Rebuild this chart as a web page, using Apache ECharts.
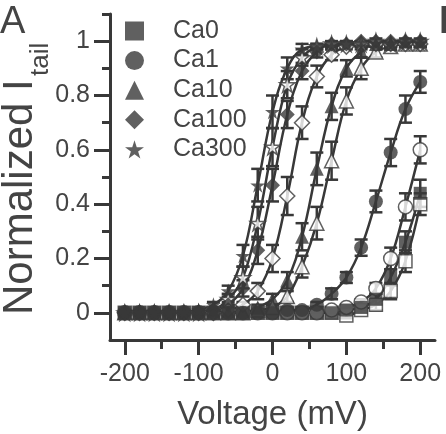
<!DOCTYPE html>
<html>
<head>
<meta charset="utf-8">
<script src="https://cdn.jsdelivr.net/npm/echarts@6/dist/echarts.min.js"></script>
<style>
  html, body { margin: 0; padding: 0; background: #fff; }
  #main { width: 446px; height: 434px; }
</style>
</head>
<body>
<div id="main"></div>
<script>
// voltages (mV)
var volts = [-200, -180, -160, -140, -120, -100, -80, -60, -40, -20, 0, 20, 40, 60, 80, 100, 120, 140, 160, 180, 200];

// normalized tail current, filled = first set, open = second set
var ca0   = [0, 0, 0, 0, 0, 0, 0, 0, 0, 0, 0, 0, 0, 0, 0, 0.01, 0.02, 0.05, 0.13, 0.26, 0.44];
var ca0o  = [0, 0, 0, 0, 0, 0, 0, 0, 0, 0, 0, 0, 0, 0, 0, -0.01, 0.01, 0.03, 0.08, 0.19, 0.4];
var ca1   = [0, 0, 0, 0, 0, 0, 0, 0, 0, 0, 0, 0.01, 0.01, 0.03, 0.07, 0.13, 0.24, 0.41, 0.59, 0.75, 0.85];
var ca1o  = [0, 0, 0, 0, 0, 0, 0, 0, 0, 0, 0, 0, 0, 0, 0.01, 0.02, 0.04, 0.09, 0.2, 0.39, 0.6];
var ca10  = [0, 0, 0, 0, 0, 0, 0, 0, 0, 0.02, 0.05, 0.12, 0.28, 0.53, 0.76, 0.9, 0.96, 0.99, 0.99, 1, 1];
var ca10o = [0, 0, 0, 0, 0, 0, 0, 0, 0, 0.01, 0.02, 0.06, 0.17, 0.33, 0.56, 0.78, 0.9, 0.96, 0.98, 0.99, 0.99];
var ca100  = [0, 0, 0, 0, 0, 0, 0.01, 0.03, 0.09, 0.23, 0.47, 0.73, 0.89, 0.96, 0.99, 0.99, 1, 1, 1, 1, 1];
var ca100o = [0, 0, 0, 0, 0, 0, 0, 0.01, 0.03, 0.08, 0.2, 0.43, 0.7, 0.87, 0.95, 0.98, 0.99, 0.99, 0.99, 0.99, 0.99];
var ca300  = [0, 0, 0, 0, 0, 0.01, 0.03, 0.08, 0.21, 0.47, 0.74, 0.9, 0.97, 0.98, 0.98, 0.99, 0.98, 0.99, 0.99, 0.99, 0.99];
var ca300o = [0, 0, 0, 0, 0, 0, 0.01, 0.05, 0.13, 0.33, 0.61, 0.84, 0.94, 0.98, 0.99, 0.99, 0.99, 1, 0.99, 1, 1];

// SEM
var e0    = [0, 0, 0, 0, 0, 0, 0, 0, 0, 0, 0, 0, 0, 0, 0, 0.01, 0.01, 0.02, 0.03, 0.04, 0.05];
var e0o   = [0, 0, 0, 0, 0, 0, 0, 0, 0, 0, 0, 0, 0, 0, 0, 0.01, 0.01, 0.02, 0.03, 0.04, 0.04];
var e1    = [0, 0, 0, 0, 0, 0, 0, 0, 0, 0, 0, 0, 0.01, 0.01, 0.02, 0.02, 0.03, 0.04, 0.05, 0.05, 0.04];
var e1o   = [0, 0, 0, 0, 0, 0, 0, 0, 0, 0, 0, 0, 0, 0, 0.01, 0.01, 0.01, 0.02, 0.04, 0.05, 0.05];
var e10   = [0, 0, 0, 0, 0, 0, 0, 0, 0, 0.01, 0.02, 0.03, 0.05, 0.06, 0.05, 0.03, 0.02, 0.01, 0.01, 0, 0];
var e10o  = [0, 0, 0, 0, 0, 0, 0, 0, 0, 0, 0.01, 0.02, 0.04, 0.06, 0.07, 0.05, 0.04, 0.02, 0.01, 0.01, 0.01];
var e100  = [0, 0, 0, 0, 0, 0, 0.01, 0.01, 0.03, 0.05, 0.06, 0.05, 0.03, 0.02, 0.01, 0.01, 0, 0, 0, 0, 0];
var e100o = [0, 0, 0, 0, 0, 0, 0, 0.01, 0.01, 0.03, 0.05, 0.07, 0.06, 0.04, 0.02, 0.01, 0.01, 0.01, 0.01, 0.01, 0.01];
var e300  = [0, 0, 0, 0, 0, 0.01, 0.01, 0.02, 0.04, 0.06, 0.06, 0.04, 0.02, 0.01, 0.01, 0.01, 0.01, 0.01, 0.01, 0.01, 0.01];
var e300o = [0, 0, 0, 0, 0, 0, 0.01, 0.02, 0.04, 0.06, 0.07, 0.05, 0.03, 0.01, 0.01, 0.01, 0.01, 0.01, 0.01, 0.01, 0.01];

// axis ticks
var xMajor = [-200, -100, 0, 100, 200];
var xMinor = [-150, -50, 50, 150];
var yMajor = [0, 0.2, 0.4, 0.6, 0.8, 1];
var yMinor = [0.1, 0.3, 0.5, 0.7, 0.9, 1.1];

var INK = '#383838';
var FONT = 'Liberation Sans, Arial, sans-serif';
var STAR = 'path://M0,-10L2.25,-3.09L9.51,-3.09L3.63,1.18L5.88,8.09L0,3.82L-5.88,8.09L-3.63,1.18L-9.51,-3.09L-2.25,-3.09Z';

var sets = [
  { name: 'Ca0',   y: ca0,   e: e0,   sym: 'rect',     size: 13, open: false },
  { name: 'Ca0 o', y: ca0o,  e: e0o,  sym: 'rect',     size: 13, open: true },
  { name: 'Ca1',   y: ca1,   e: e1,   sym: 'circle',   size: 14, open: false },
  { name: 'Ca1 o', y: ca1o,  e: e1o,  sym: 'circle',   size: 14, open: true },
  { name: 'Ca10',  y: ca10,  e: e10,  sym: 'triangle', size: 14, open: false },
  { name: 'Ca10 o', y: ca10o, e: e10o, sym: 'triangle', size: 14, open: true },
  { name: 'Ca100', y: ca100, e: e100, sym: 'diamond',  size: 15, open: false },
  { name: 'Ca100 o', y: ca100o, e: e100o, sym: 'diamond', size: 15, open: true },
  { name: 'Ca300', y: ca300, e: e300, sym: STAR,       size: 15, open: false },
  { name: 'Ca300 o', y: ca300o, e: e300o, sym: STAR,   size: 15, open: true }
];

function errBar(params, api) {
  var x = api.value(0);
  var p1 = api.coord([x, api.value(1)]);
  var p2 = api.coord([x, api.value(2)]);
  var w = 6.5;
  var st = { stroke: INK, lineWidth: 2.5 };
  return {
    type: 'group',
    children: [
      { type: 'line', shape: { x1: p1[0], y1: p1[1], x2: p2[0], y2: p2[1] }, style: st },
      { type: 'line', shape: { x1: p1[0] - w, y1: p1[1], x2: p1[0] + w, y2: p1[1] }, style: st },
      { type: 'line', shape: { x1: p2[0] - w, y1: p2[1], x2: p2[0] + w, y2: p2[1] }, style: st }
    ]
  };
}

var series = [];
sets.forEach(function (s) {
  var pts = volts.map(function (v, i) { return [v, s.y[i]]; });
  var bars = [];
  volts.forEach(function (v, i) {
    if (s.e[i] > 0) bars.push([v, s.y[i] - s.e[i], s.y[i] + s.e[i]]);
  });
  // fitted curve
  series.push({
    type: 'line', name: s.name + ' fit', data: pts, smooth: 0.4,
    symbol: 'none', z: 2, silent: true,
    lineStyle: { color: INK, width: 2.5 }
  });
  series.push({
    type: 'custom', name: s.name + ' err', data: bars, renderItem: errBar,
    encode: { x: 0, y: [1, 2] }, z: 3, silent: true
  });
  series.push({
    type: 'scatter', name: s.name, data: pts, symbol: s.sym, symbolSize: s.size,
    z: s.open ? 4 : 5,
    itemStyle: s.open
      ? { color: '#ffffff', borderColor: INK, borderWidth: 1.5 }
      : { color: INK }
  });
});

var chart = echarts.init(document.getElementById('main'), null, { renderer: 'canvas' });

chart.setOption({
  animation: false,
  backgroundColor: '#ffffff',
  textStyle: { fontFamily: FONT },
  grid: { left: 110, right: 11, top: 14, bottom: 94, containLabel: false, outerBoundsMode: 'none' },
  legend: {
    orient: 'vertical', left: 125, top: 18, padding: 0,
    itemWidth: 19, itemHeight: 19, itemGap: 3.6,
    symbolKeepAspect: true,
    selectedMode: false,
    data: ['Ca0', 'Ca1', 'Ca10', 'Ca100', 'Ca300'],
    textStyle: { fontSize: 25, lineHeight: 26, color: '#444', fontFamily: FONT, padding: [0, 0, 0, 24] }
  },
  xAxis: [
    {
      type: 'value', min: -220, max: 220,
      name: 'Voltage (mV)', nameLocation: 'middle', nameGap: 58,
      nameTextStyle: { fontSize: 33, color: '#444', fontFamily: FONT },
      axisLine: { show: true, onZero: false, lineStyle: { color: INK, width: 3 } },
      axisTick: { show: true, customValues: xMajor, length: 15, lineStyle: { color: INK, width: 3 } },
      axisLabel: { customValues: xMajor, margin: 22, fontSize: 25, color: '#444', fontFamily: FONT },
      splitLine: { show: false }
    },
    {
      type: 'value', min: -220, max: 220, position: 'bottom',
      axisLine: { show: false, onZero: false },
      axisTick: { show: true, customValues: xMinor, length: 9, lineStyle: { color: INK, width: 3 } },
      axisLabel: { show: false },
      splitLine: { show: false }
    }
  ],
  yAxis: [
    {
      type: 'value', min: -0.1, max: 1.1,
      axisLine: { show: true, onZero: false, lineStyle: { color: INK, width: 3 } },
      axisTick: { show: true, customValues: yMajor, length: 16, lineStyle: { color: INK, width: 3 } },
      axisLabel: { customValues: yMajor, margin: 20, fontSize: 25, color: '#444', fontFamily: FONT },
      splitLine: { show: false }
    },
    {
      type: 'value', min: -0.1, max: 1.1, position: 'left',
      axisLine: { show: false, onZero: false },
      axisTick: { show: true, customValues: yMinor, length: 8, lineStyle: { color: INK, width: 3 } },
      axisLabel: { show: false },
      splitLine: { show: false }
    }
  ],
  graphic: [
    { type: 'text', x: 0, y: 4, style: { text: 'A', font: '38px ' + FONT, fill: '#444', textAlign: 'left', textVerticalAlign: 'top', align: 'left', verticalAlign: 'top' } },
    { type: 'text', x: 439, y: 4, style: { text: 'B', font: 'bold 38px ' + FONT, fill: '#444', textAlign: 'left', textVerticalAlign: 'top', align: 'left', verticalAlign: 'top' } },
    { type: 'text', x: 20, y: 315, rotation: Math.PI / 2, style: { text: 'Normalized I', font: '42px ' + FONT, fill: '#444', textAlign: 'left', textVerticalAlign: 'middle', align: 'left', verticalAlign: 'middle' } },
    { type: 'text', x: 41, y: 76, rotation: Math.PI / 2, style: { text: 'tail', font: '26px ' + FONT, fill: '#444', textAlign: 'left', textVerticalAlign: 'middle', align: 'left', verticalAlign: 'middle' } }
  ],
  series: series
});
</script>
</body>
</html>
